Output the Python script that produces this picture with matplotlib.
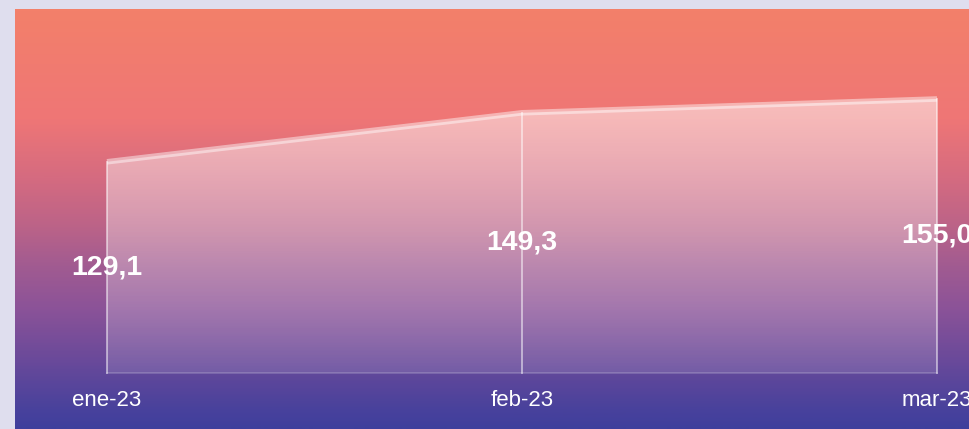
import numpy as np
import matplotlib
matplotlib.use("Agg")
import matplotlib.pyplot as plt
from matplotlib.colors import LinearSegmentedColormap

months = ["ene-23", "feb-23", "mar-23"]
values = [129.1, 149.3, 155.0]
labels = ["129,1", "149,3", "155,0"]

W, H = 970, 429
fig = plt.figure(figsize=(W / 100, H / 100), dpi=100)
fig.patch.set_facecolor("#dfdeee")

# gradient panel behind the chart
bg = fig.add_axes([15 / W, 0, 1 - 15 / W, 1 - 9 / H])
bg.set_axis_off()
stops = [(0.0, "#f3806a"), (0.26, "#ef7676"), (0.4, "#d56b80"),
         (0.52, "#bb6388"), (0.6, "#a45c90"), (0.71, "#8c5398"),
         (0.83, "#6c4a9a"), (0.95, "#4a429c"), (1.0, "#3f3f9c")]
cmap = LinearSegmentedColormap.from_list("bg", stops)
grad = np.linspace(0, 1, 400).reshape(-1, 1)
bg.imshow(grad, aspect="auto", cmap=cmap, extent=[0, 1, 0, 1], origin="upper")
bg.set_xlim(0, 1)
bg.set_ylim(0, 1)

ax = fig.add_axes([0, 0, 1, 1])
ax.patch.set_alpha(0)
ax.set_axis_off()
x = np.arange(len(values))
step = 415.0
ax.set_xlim(-107 / step, (W - 107) / step)
ppu = 2.426
ax.set_ylim((475 - H) / ppu, 475 / ppu)
base = (475 - 373) / ppu

# area with white gradient fill
poly = ax.fill_between(x, values, base, color="none", lw=0)
rgba = np.ones((300, 2, 4))
rgba[:, :, 3] = np.linspace(0.52, 0.12, 300)[:, None]
img = ax.imshow(rgba, aspect="auto", extent=[0, 2, base, max(values)],
                origin="upper", zorder=2)
img.set_clip_path(poly.get_paths()[0], transform=ax.transData)

ax.plot(x, values, color="white", alpha=0.45, lw=4, zorder=3,
        solid_capstyle="butt")
ax.plot([0, 2], [base, base], color="white", alpha=0.2, lw=1.2, zorder=3)
for xi, v in zip(x, values):
    ax.plot([xi, xi], [base, v], color="white", alpha=0.55, lw=1.3, zorder=3)
    ax.text(xi, (v + base) / 2, labels[xi], color="white", fontsize=20.5,
            fontweight="bold", family="Liberation Sans",
            ha="center", va="center", zorder=4)
    ax.text(xi, (475 - 400) / ppu, months[xi], color="white", fontsize=16,
            family="Liberation Sans", ha="center", va="center", zorder=4)

fig.savefig("out.png", dpi=100)
